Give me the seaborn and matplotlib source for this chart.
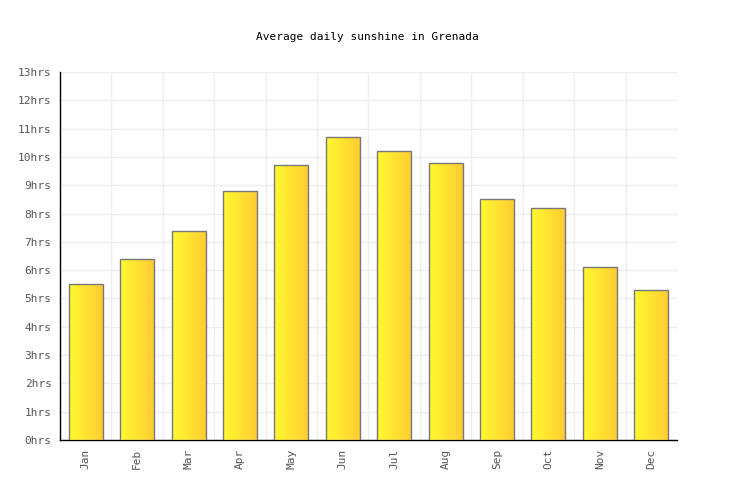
import numpy as np
import pandas as pd
import matplotlib
matplotlib.use("Agg")
import matplotlib.pyplot as plt
import seaborn as sns
from matplotlib.colors import LinearSegmentedColormap

months = ['Jan', 'Feb', 'Mar', 'Apr', 'May', 'Jun', 'Jul', 'Aug', 'Sep', 'Oct', 'Nov', 'Dec']
sunshine = [5.5, 6.4, 7.4, 8.8, 9.7, 10.7, 10.2, 9.8, 8.5, 8.2, 6.1, 5.3]
ytick_vals = list(range(0, 14))
ytick_labels = ['%dhrs' % v for v in ytick_vals]

sns.set_style('white')
plt.rcParams['font.family'] = ['DejaVu Sans Mono']

df = pd.DataFrame({'month': months, 'hrs': sunshine})

fig = plt.figure(figsize=(7.36, 5), dpi=100)
ax = fig.add_axes([60 / 736, 60 / 500, 617 / 736, 368 / 500])

ax = sns.barplot(data=df, x='month', y='hrs', ax=ax, width=0.66,
                 color='#ffe033', edgecolor='#777777', linewidth=1, zorder=3)

# gradient fill for each bar
cmap = LinearSegmentedColormap.from_list('sun', ['#fffa30', '#ffcc33'])
grad = np.linspace(0, 1, 256).reshape(1, -1)
for p in ax.patches:
    x0, y0 = p.get_x(), p.get_y()
    w, h = p.get_width(), p.get_height()
    im = ax.imshow(grad, cmap=cmap, aspect='auto', extent=[x0, x0 + w, y0, y0 + h],
                   zorder=3.5, interpolation='bilinear')
    im.set_clip_path(p)
    p.set_facecolor('none')
    p.set_zorder(4)

ax.set_xlim(-0.5, 11.5)
ax.set_ylim(0, 13)
ax.set_yticks(ytick_vals)
ax.set_yticklabels(ytick_labels, fontsize=8, color='#555555')
ax.set_xticks(np.arange(12))
ax.set_xticklabels(months, rotation=90, fontsize=8, color='#555555')
ax.set_xticks(np.arange(-0.5, 12, 1), minor=True)
ax.grid(False)
ax.grid(True, which='minor', axis='x', color='#eeeeee', linewidth=1, zorder=0)
ax.grid(True, which='major', axis='y', color='#eeeeee', linewidth=1, zorder=0)
ax.tick_params(axis='both', which='both', length=0, pad=6)
ax.set_xlabel('')
ax.set_ylabel('')
for s in ['top', 'right']:
    ax.spines[s].set_visible(False)
for s in ['left', 'bottom']:
    ax.spines[s].set_color('black')
    ax.spines[s].set_linewidth(1)
ax.set_axisbelow(True)

fig.text(367 / 736, 1 - 37 / 500, 'Average daily sunshine in Grenada', ha='center', va='center',
         fontsize=8, color='black')

fig.savefig('out.png', dpi=100)
